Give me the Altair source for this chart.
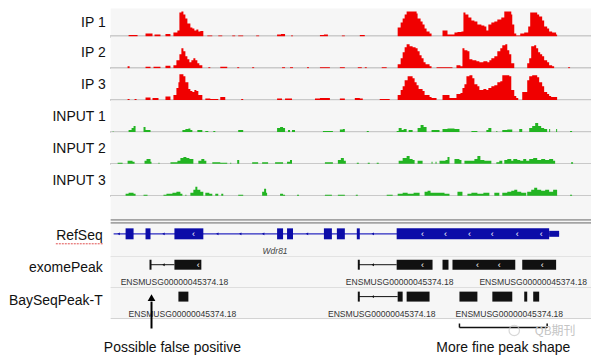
import altair as alt
import pandas as pd

W = 482
X_DOMAIN = [110, 592]
FONT = "Liberation Sans"
RED = "#f00000"
GREEN = "#22b422"
BLUE = "#0c0ca8"
BG = "#f6f6f6"

# ---- coverage profiles: (position, coverage) breakpoints, step-after ----
ip1 = [(128,1.5),(137,0),(145,3),(152,0),(154,2),(160,0),(165,2.5),(170,0),(173,4),(177,6),(179,24),(181,25),(183,22),(185,18),(187,13),(190,9),(192,8),(194,6),(196,7),(198,5),(200,5.5),(203,0),(207,1),(212,0),(218,1),(222,0),(232,1),(235,0),(238,1),(243,0),(256,1),(259,0),(277,2),(281,2.5),(285,0),(291,1),(293,0),(320,1.5),(324,2),(328,0),(342,1),(345,0),(360,1.5),(365,0),(398,9),(401,14),(403,18),(405,22),(407,25),(417,23),(418,18),(421,15),(423,12),(425,8),(427,5),(430,3),(432,0),(443,6),(448,2),(455,4),(458,4.5),(462,5),(464,24),(466,22),(469,19),(472,16),(475,15),(478,12),(482,11),(485,10),(487,6),(489,12),(492,14),(495,15),(498,17),(502,19),(505,25),(512,22),(513,12),(515,3),(517,1),(521,3),(525,4),(529,10),(531,24),(538,22),(540,20),(543,16),(545,10),(548,8),(550,5),(553,4),(557,2),(558,0)]
ip2 = [(127,2),(129,0),(145,1.5),(150,0),(153,1.5),(160,0),(165,2.5),(170,0),(173,3),(176,8),(179,14),(181,20),(183,17),(185,12),(187,9),(189,6),(191,8),(193,10),(195,8),(197,5),(199,3),(202,0),(208,1),(210,0),(220,1.5),(227,0),(237,1),(239,0),(252,1),(254,0),(282,1),(285,0),(290,1),(293,0),(307,1),(309,0),(320,1),(330,0),(340,1),(345,0),(358,1),(362,0),(365,1),(367,0),(382,1),(387,0),(398,4),(401,10),(403,16),(405,21),(407,24),(410,22),(413,21),(416,20),(418,17),(420,13),(422,10),(424,6),(426,4),(430,2),(432,0),(437,1),(453,0),(457,3),(461,2),(463,20),(465,18),(468,17),(470,9),(473,8),(477,7),(480,6),(484,7),(488,6),(490,8),(492,10),(495,12),(498,17),(501,20),(503,23),(506,24),(508,18),(510,14),(512,5),(515,0),(528,5),(530,10),(532,22),(535,23),(537,20),(539,16),(541,14),(543,12),(545,8),(548,6),(550,3),(553,2),(555,0),(569,1),(571,0)]
ip3 = [(127,1),(129,0),(134,1),(136,0),(145,2.5),(150,0),(152,2),(158,0),(165,3.5),(170,0),(173,5),(176,12),(178,18),(179,26),(183,24),(185,18),(188,11),(190,9),(192,8),(194,10),(196,9),(198,5),(202,0),(205,1.5),(210,1),(218,0),(220,3),(225,0),(241,1),(243,0),(277,1.5),(282,0),(285,1.5),(292,0),(315,1.5),(320,2),(330,0),(340,1.5),(345,0),(355,2),(360,1.5),(363,0),(380,1),(390,0),(398,5),(401,10),(403,14),(405,20),(408,24),(413,22),(415,18),(417,15),(419,11),(423,9),(425,5),(430,3),(432,2),(437,0),(443,5),(450,2),(457,6),(461,7),(463,12),(465,16),(467,24),(470,25),(473,22),(475,16),(478,14),(480,10),(484,11),(487,10),(489,12),(492,14),(495,15),(498,18),(501,19),(503,25),(510,24),(512,10),(515,4),(517,2),(519,0),(523,8),(528,20),(530,24),(533,25),(538,23),(540,18),(543,14),(545,8),(548,6),(550,4),(552,3),(558,0)]
input1 = [(112,0.5),(113,0),(128,2),(131,4),(133,6),(135,0),(143,5),(145,2),(150,0),(182,2),(185,3),(188,3.5),(190,2),(192,0),(197,2),(202,0),(205,1),(208,0),(213,1),(215,0),(238,2),(243,0),(277,4),(280,5),(283,4),(285,0),(288,2),(290,0),(292,2),(295,0),(323,1),(333,0),(340,2.5),(343,3),(345,0),(367,1),(369,0),(397,1),(399,4),(402,2),(404,3),(407,0),(409,2),(413,0),(418,4),(421,7),(424,5),(427,0),(432,2),(440,0),(443,3),(448,3.5),(455,3),(460,0),(472,1),(478,0),(487,2),(489,4),(492,0),(497,1),(498,0),(503,2),(508,2.5),(513,0),(520,3),(523,0),(530,4),(533,6),(536,9),(539,6),(542,4),(545,3),(548,0),(550,3),(551,0),(557,3),(558,0),(571,1),(573,0)]
input2 = [(117,1),(122,0),(127,3),(132,2),(134,0),(144,3),(146,5),(150,2),(151,0),(158,1),(159,0),(170,1.5),(177,3),(180,6),(183,7),(186,6),(189,5),(193,0),(198,3),(201,5),(204,3),(206,0),(212,1.5),(220,1),(227,0),(230,1),(231,0),(237,4),(239,0),(252,1.5),(258,0),(262,1.5),(268,0),(275,1.5),(283,0),(287,2),(290,4),(292,0),(325,1.5),(333,0),(338,4),(341,6),(344,3),(346,0),(357,1),(359,0),(368,1),(370,0),(377,1),(379,0),(399,3),(403,6),(407,8),(410,5),(413,4),(415,0),(418,3),(423,0),(432,2),(433,0),(436,2),(437,0),(440,3),(446,4),(448,7),(450,0),(455,5),(460,4),(462,0),(465,3),(471,3),(475,5),(478,8),(481,4),(485,3),(492,0),(497,1.5),(500,3),(503,0),(505,4),(508,5),(512,3),(514,5),(518,4),(521,3),(524,5),(527,3),(530,5),(534,6),(538,4),(542,5),(546,4),(550,5),(554,3),(556,0),(572,1.5),(574,0)]
input3 = [(125,2),(128,3),(133,2),(135,0),(143,1),(147,0),(163,1),(166,2),(172,3),(176,4),(180,2),(182,0),(185,1),(186,0),(190,3),(193,6),(195,9),(197,6),(200,4),(203,0),(205,3),(209,2),(212,0),(215,2),(218,0),(221,2),(223,0),(238,1),(243,0),(262,4),(264,7),(266,3),(267,0),(280,2),(283,1),(285,0),(297,1),(299,0),(325,1),(332,0),(338,1),(345,0),(356,1),(358,0),(387,1),(393,0),(398,2),(403,3),(408,2),(414,3),(420,0),(425,4),(428,5),(431,3),(438,3),(445,2),(450,0),(458,4),(463,0),(468,2),(472,3),(478,2),(484,3),(490,0),(495,3),(500,0),(503,3),(508,4),(512,5),(515,6),(518,4),(522,3),(527,0),(528,4),(532,6),(535,8),(538,6),(542,5),(546,6),(550,4),(554,6),(558,0),(571,1),(573,0)]

# ---- gene / peak annotation features ----
refseq_span = [(113, 560)]
refseq_exons = [(125,133),(145,150),(174,203),(277,283),(287,293),(324,332),(337,345),(357,360),(397,550)]
refseq_utr = [(550, 560)]
refseq_intron_marks = [118, 163, 217, 240, 263, 307, 373]
refseq_exon_marks = [193, 423, 446, 470, 493, 518, 542]
gene_name = [("Wdr81", 275)]

exome_lines = [(150,174),(359,397)]
exome_starts = [150, 359]
exome_blocks = [(174,201),(397,433),(443,449),(453,516),(523,557)]
exome_intron_marks = [163, 373]
exome_exon_marks = [198, 423, 478, 500, 543]
exome_names = [("ENSMUSG00000045374.18", 174), ("ENSMUSG00000045374.18", 400), ("ENSMUSG00000045374.18", 534)]

bayseq_lines = [(359,398)]
bayseq_starts = [359]
bayseq_blocks = [(178,188),(398,403),(407,430),(460,478),(493,513),(525,528),(534,540)]
bayseq_intron_marks = [373]
bayseq_names = [("ENSMUSG00000045374.18", 182), ("ENSMUSG00000045374.18", 382), ("ENSMUSG00000045374.18", 510)]

false_positive_at = [151]
fine_region = [(460, 548)]
notes = [("Possible false positive", 172), ("More fine peak shape", 504)]
watermark = [("QB期刊", 556)]
watermark_icon_at = [515]

xs = alt.Scale(domain=X_DOMAIN)


def X(field):
    return alt.X(field, scale=xs, axis=None)


def label_layer(text, y, x=-5):
    return alt.Chart(pd.DataFrame({"t": [text]})).mark_text(
        align="right", baseline="middle", fontSize=14, font=FONT, color="#111"
    ).encode(text="t:N", x=alt.value(x), y=alt.value(y))


def hline(y, color, width):
    return alt.Chart(pd.DataFrame({"a": [0]})).mark_rule(color=color, strokeWidth=width).encode(
        x=alt.value(0), x2=alt.value(W), y=alt.value(y))


def signal_panel(name, prof, color, h):
    df = pd.DataFrame(prof, columns=["pos", "cov"])
    ys = alt.Scale(domain=[0, h])
    base = alt.Chart(df).mark_rule(color="#c9c9c9", strokeWidth=1.5).encode(
        y=alt.Y(datum=0, scale=ys, axis=None))
    area = alt.Chart(df).mark_area(interpolate="step-after", color=color, opacity=1).encode(
        x=X("pos:Q"), y=alt.Y("cov:Q", scale=ys, axis=None))
    return alt.layer(base, area, label_layer(name, 0.53 * h)).properties(
        width=W, height=h, view=alt.ViewBackground(fill=BG, stroke=None))


def feature_layers(lines, starts, blocks, intron_marks, exon_marks, names, yc, bh, ytext):
    layers = []
    ldf = pd.DataFrame(lines, columns=["s", "e"])
    layers.append(alt.Chart(ldf).mark_rule(color="#111", strokeWidth=1).encode(
        x=X("s:Q"), x2="e:Q", y=alt.value(yc)))
    sdf = pd.DataFrame({"p": starts})
    layers.append(alt.Chart(sdf).mark_rule(color="#111", strokeWidth=2).encode(
        x=X("p:Q"), y=alt.value(yc - bh / 2), y2=alt.value(yc + bh / 2)))
    bdf = pd.DataFrame(blocks, columns=["s", "e"])
    layers.append(alt.Chart(bdf).mark_rect(color="#111").encode(
        x=X("s:Q"), x2="e:Q", y=alt.value(yc - bh / 2), y2=alt.value(yc + bh / 2)))
    if intron_marks:
        layers.append(alt.Chart(pd.DataFrame({"p": intron_marks})).mark_point(
            shape="triangle-left", filled=True, size=8, color="#111", opacity=1).encode(
            x=X("p:Q"), y=alt.value(yc)))
    if exon_marks:
        layers.append(alt.Chart(pd.DataFrame({"p": exon_marks})).mark_text(
            text="‹", color="white", fontSize=9, font=FONT, baseline="middle").encode(
            x=X("p:Q"), y=alt.value(yc)))
    ndf = pd.DataFrame(names, columns=["n", "p"])
    layers.append(alt.Chart(ndf).mark_text(fontSize=8.6, font=FONT, color="#333",
                                           baseline="middle").encode(
        x=X("p:Q"), y=alt.value(ytext), text="n:N"))
    return layers


panels = [
    signal_panel("IP 1", ip1, RED, 28),
    signal_panel("IP 2", ip2, RED, 31.8),
    signal_panel("IP 3", ip3, RED, 31.8),
    signal_panel("INPUT 1", input1, GREEN, 31.8),
    signal_panel("INPUT 2", input2, GREEN, 31.8),
    signal_panel("INPUT 3", input3, GREEN, 31.8),
]

# RefSeq panel
span_df = pd.DataFrame(refseq_span, columns=["s", "e"])
ex_df = pd.DataFrame(refseq_exons, columns=["s", "e"])
utr_df = pd.DataFrame(refseq_utr, columns=["s", "e"])
refseq = alt.layer(
    hline(24, "#a4a4a4", 1.8),
    hline(27, "#a4a4a4", 1.8),
    hline(61, "#d2d2d2", 1),
    alt.Chart(span_df).mark_rule(color="#2a2ac0", strokeWidth=1.2).encode(
        x=X("s:Q"), x2="e:Q", y=alt.value(38)),
    alt.Chart(ex_df).mark_rect(color=BLUE).encode(
        x=X("s:Q"), x2="e:Q", y=alt.value(32.5), y2=alt.value(43.5)),
    alt.Chart(utr_df).mark_rect(color=BLUE).encode(
        x=X("s:Q"), x2="e:Q", y=alt.value(35), y2=alt.value(41)),
    alt.Chart(pd.DataFrame({"p": refseq_intron_marks})).mark_point(
        shape="triangle-left", filled=True, size=8, color=BLUE, opacity=1).encode(
        x=X("p:Q"), y=alt.value(38)),
    alt.Chart(pd.DataFrame({"p": refseq_exon_marks})).mark_text(
        text="‹", color="white", fontSize=9, font=FONT, baseline="middle").encode(
        x=X("p:Q"), y=alt.value(38)),
    alt.Chart(pd.DataFrame(gene_name, columns=["n", "p"])).mark_text(
        fontSize=8.5, font=FONT, fontStyle="italic", color="#444", baseline="middle").encode(
        x=X("p:Q"), y=alt.value(55), text="n:N"),
    alt.Chart(pd.DataFrame({"a": [0]})).mark_rule(color="#e05050", strokeWidth=1, strokeDash=[2, 1]).encode(
        x=alt.value(-55), x2=alt.value(-8), y=alt.value(48)),
    label_layer("RefSeq", 40, x=-8),
).properties(width=W, height=61, view=alt.ViewBackground(fill=BG, stroke=None))

exome = alt.layer(
    hline(31, "#d2d2d2", 1),
    *feature_layers(exome_lines, exome_starts, exome_blocks, exome_intron_marks,
                    exome_exon_marks, exome_names, 8, 10, 25),
    label_layer("exomePeak", 11, x=-8),
).properties(width=W, height=31, view=alt.ViewBackground(fill=BG, stroke=None))

bayseq = alt.layer(
    hline(31, "#d2d2d2", 1),
    *feature_layers(bayseq_lines, bayseq_starts, bayseq_blocks, bayseq_intron_marks,
                    [], bayseq_names, 9, 10, 26),
    label_layer("BaySeqPeak-T", 13, x=-8),
).properties(width=W, height=31, view=alt.ViewBackground(fill=BG, stroke=None))

# bottom annotations
fp_df = pd.DataFrame({"p": false_positive_at})
fr_df = pd.DataFrame(fine_region, columns=["s", "e"])
notes_df = pd.DataFrame(notes, columns=["n", "p"])
bottom = alt.layer(
    alt.Chart(fp_df).mark_rule(color="#000", strokeWidth=2).encode(
        x=X("p:Q"), y=alt.value(10), y2=alt.value(-17)),
    alt.Chart(fp_df).mark_point(shape="triangle-up", filled=True, size=60, color="#000", opacity=1).encode(
        x=X("p:Q"), y=alt.value(-21)),
    alt.Chart(fr_df).mark_rule(color="#111", strokeWidth=1.5).encode(
        x=X("s:Q"), x2="e:Q", y=alt.value(9)),
    alt.Chart(fr_df).mark_rule(color="#111", strokeWidth=1.5).encode(
        x=X("s:Q"), y=alt.value(5), y2=alt.value(9)),
    alt.Chart(fr_df).mark_rule(color="#111", strokeWidth=1.5).encode(
        x=X("e:Q"), y=alt.value(5), y2=alt.value(9)),
    alt.Chart(pd.DataFrame({"p": watermark_icon_at})).mark_point(
        shape="circle", size=110, color="#c8c8c8", strokeWidth=1.2).encode(
        x=X("p:Q"), y=alt.value(12)),
    alt.Chart(pd.DataFrame(watermark, columns=["n", "p"])).mark_text(
        fontSize=12, font="Noto Sans CJK SC", color="#c4c4c4", baseline="middle").encode(
        x=X("p:Q"), y=alt.value(13), text="n:N"),
    alt.Chart(notes_df).mark_text(fontSize=14, font=FONT, color="#111", baseline="middle").encode(
        x=X("p:Q"), y=alt.value(29.5), text="n:N"),
).properties(width=W, height=38, view=alt.ViewBackground(fill=None, stroke=None))

panels += [refseq, exome, bayseq, bottom]

chart = alt.vconcat(*panels, spacing=0, bounds="flush").resolve_scale(
    x="independent", y="independent"
).properties(padding=0).configure_view(stroke=None)

chart.save("out.html", embed_options={"renderer": "svg", "actions": False})
